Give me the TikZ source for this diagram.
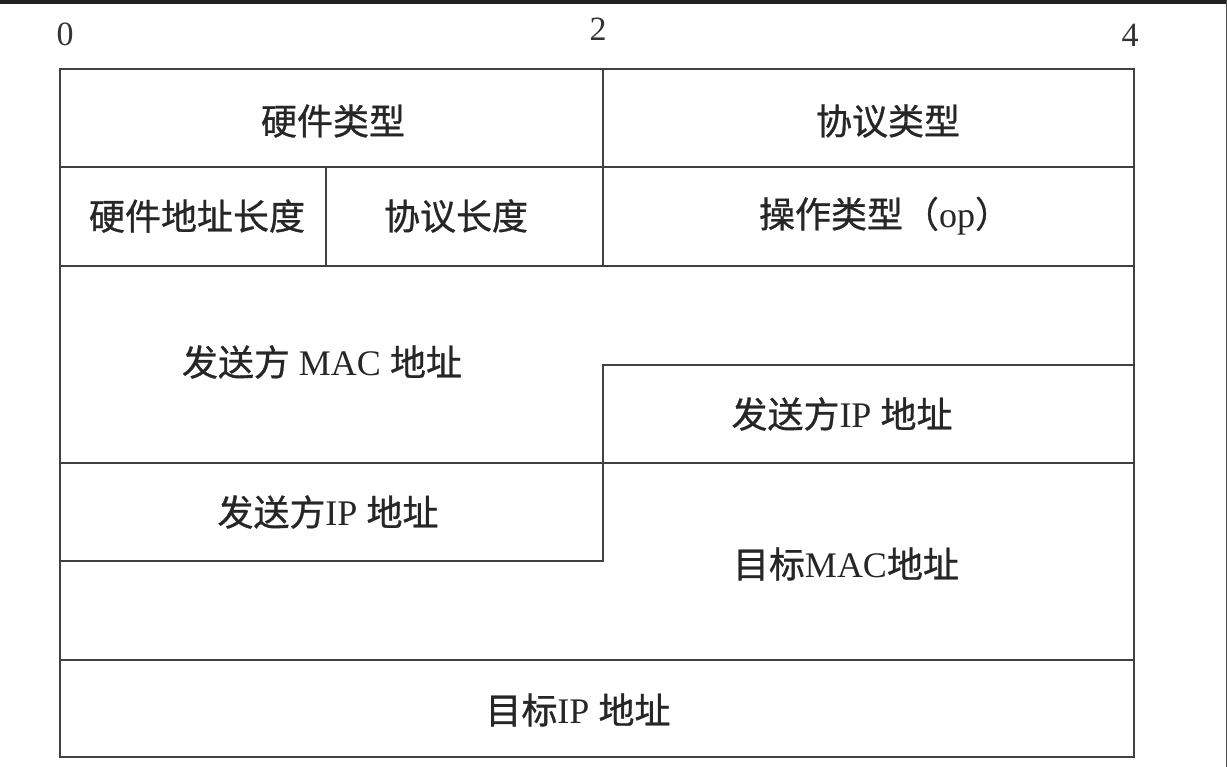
\documentclass[tikz,border=0pt]{standalone}
\usepackage{fontspec}
\setmainfont{Liberation Serif}
\newfontfamily\cjk[FakeBold=0.8]{Noto Sans CJK SC}
\begin{document}
\begin{tikzpicture}[x=1pt,y=-1pt,
  grid/.style={draw=black!75,line width=2.9pt,line cap=rect},
  lbl/.style={font=\fontsize{36}{40}\selectfont,text=black!85,inner sep=0pt,anchor=center},
  num/.style={font=\fontsize{34}{36}\selectfont,text=black!80,inner sep=0pt,anchor=center}]
\useasboundingbox (0,0) rectangle (1227,767);
\fill[black!87] (0,0) rectangle (1227,4);
\fill[black!70] (1225.5,0) rectangle (1227,767);
% outer frame and lines
\draw[grid] (60,69) rectangle (1134,757);
\draw[grid] (60,167) -- (1134,167);
\draw[grid] (60,266) -- (1134,266);
\draw[grid] (60,463) -- (1134,463);
\draw[grid] (60,660) -- (1134,660);
\draw[grid] (603,69) -- (603,266);
\draw[grid] (326,167) -- (326,266);
\draw[grid] (1134,365) -- (603,365) -- (603,561) -- (60,561);
% numbers
\node[num] (n0) at (65,34) {0};
\node[num] (n2) at (598,29) {2};
\node[num] (n4) at (1130,35) {4};
% labels
\node[lbl] (hwtype) at (333,121) {\cjk 硬件类型};
\node[lbl] (prtype) at (888,121) {\cjk 协议类型};
\node[lbl] (hwlen) at (197,216) {\cjk 硬件地址长度};
\node[lbl] (prlen) at (456,216) {\cjk 协议长度};
\node[lbl] (op) at (885,216) {{\cjk 操作类型（}op{\cjk ）}};
\node[lbl] (smac) at (322,362) {{\cjk 发送方} MAC {\cjk 地址}};
\node[lbl] (sip1) at (842,414) {{\cjk 发送方}IP {\cjk 地址}};
\node[lbl] (sip2) at (328,512) {{\cjk 发送方}IP {\cjk 地址}};
\node[lbl] (tmac) at (846,564) {{\cjk 目标}MAC{\cjk 地址}};
\node[lbl] (tip) at (578,710) {{\cjk 目标}IP {\cjk 地址}};
\end{tikzpicture}
\end{document}
